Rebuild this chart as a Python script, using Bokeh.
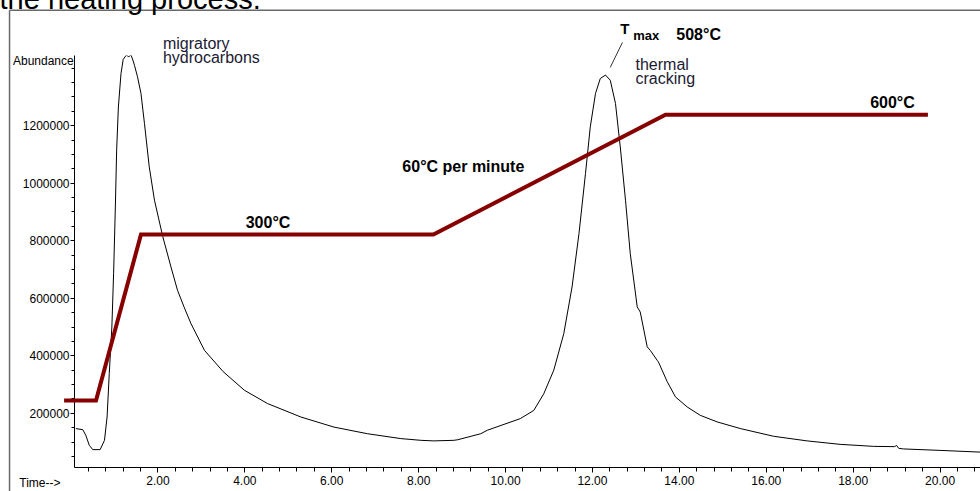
from bokeh.plotting import figure
from bokeh.models import Range1d, FixedTicker, PrintfTickFormatter
from bokeh.core.properties import value
from bokeh.embed import file_html
from bokeh.resources import INLINE

# ---- chromatogram (time in minutes, abundance counts) ----
time_min = [0.11, 0.27, 0.34, 0.42, 0.50, 0.67, 0.77, 0.83, 0.88, 0.94, 0.98, 1.02,
            1.05, 1.09, 1.15, 1.20, 1.27, 1.33, 1.38, 1.43, 1.46, 1.53, 1.61, 1.69,
            1.80, 1.92, 2.11, 2.30, 2.45, 2.60, 2.76, 3.07, 3.50, 3.99, 4.52, 5.29,
            6.05, 6.82, 7.59, 8.05, 8.35, 8.81, 8.90, 9.43, 9.58, 10.34, 10.65, 10.88,
            11.11, 11.34, 11.53, 11.69, 11.84, 11.95, 12.07, 12.18, 12.30, 12.41, 12.53,
            12.64, 12.76, 12.87, 13.03, 13.10, 13.26, 13.33, 13.49, 13.52, 13.72, 13.91,
            14.18, 14.48, 14.87, 15.40, 16.17, 16.94, 17.70, 18.47, 18.95, 19.00, 19.05,
            19.16, 20.00, 20.92]
abundance = [146800, 143000, 123500, 88700, 73700, 73700, 106000, 187000, 338000, 500000,
             686000, 917000, 1115000, 1265000, 1381000, 1430000, 1445000, 1440000, 1446000,
             1425000, 1410000, 1370000, 1312000, 1208000, 1057000, 941000, 815000, 709000,
             628000, 570000, 512000, 419000, 345000, 280000, 234000, 187000, 152000, 129000,
             112000, 106000, 104000, 106000, 108000, 129000, 141000, 181500, 210000, 268000,
             350000, 477000, 639000, 825000, 1034000, 1196000, 1312000, 1364000, 1376000,
             1358000, 1277000, 1126000, 941000, 755000, 570000, 552000, 431000, 419000,
             384000, 378000, 310000, 257000, 222000, 193000, 170000, 147000, 120000, 104000,
             92000, 85000, 84000, 88000, 78000, 76000, 71000, 65000]

# ---- oven temperature programme (schematic, drawn on the abundance scale) ----
temp_time = [-0.16, 0.575, 1.61, 8.34, 13.68, 19.72]
temp_level = [244500, 244500, 821900, 821900, 1238200, 1238200]

# ---- axis ticks ----
x_major = [2, 4, 6, 8, 10, 12, 14, 16, 18, 20]
x_minor = [0.4, 0.8, 1.2, 1.6, 2.4, 2.8, 3.2, 3.6, 4.4, 4.8, 5.2, 5.6, 6.4, 6.8, 7.2, 7.6,
           8.4, 8.8, 9.2, 9.6, 10.4, 10.8, 11.2, 11.6, 12.4, 12.8, 13.2, 13.6, 14.4, 14.8,
           15.2, 15.6, 16.4, 16.8, 17.2, 17.6, 18.4, 18.8, 19.2, 19.6, 20.4, 20.8]
y_major = [200000, 400000, 600000, 800000, 1000000, 1200000]
y_minor = [50000, 100000, 150000, 250000, 300000, 350000, 450000, 500000, 550000,
           650000, 700000, 750000, 850000, 900000, 950000, 1050000, 1100000, 1150000,
           1250000, 1300000, 1350000, 1400000]

# ---- annotation texts ----
note_text = ["migratory", "hydrocarbons", "thermal", "cracking"]
note_x = [2.115, 2.115, 12.99, 12.99]
note_y = [1484950, 1436250, 1412950, 1363250]

bold_text = ["T", "max", "508°C", "300°C", "60°C per minute", "600°C"]
bold_x = [12.64, 12.94, 13.93, 4.02, 7.625, 18.39]
bold_y = [1539600, 1513000, 1516250, 862450, 1059250, 1279750]
bold_size = ["15px", "13px", "16px", "16px", "16px", "16px"]

SANS = "Liberation Sans"

p = figure(width=980, height=491, output_backend="svg", toolbar_location=None,
           x_range=Range1d(0.08, 20.93), y_range=Range1d(11500, 1444000),
           min_border_left=74, min_border_right=0, min_border_top=55,
           min_border_bottom=24)
p.outline_line_color = None
p.grid.visible = False
p.background_fill_color = "white"
p.border_fill_color = "white"

for ax in (p.xaxis[0], p.yaxis[0]):
    ax.axis_line_color = "black"
    ax.axis_line_width = 1
    ax.major_tick_line_color = "black"
    ax.minor_tick_line_color = "black"
    ax.major_tick_in = 0
    ax.minor_tick_in = 0
    ax.major_label_text_font = SANS
    ax.major_label_text_font_size = "12px"
    ax.major_label_text_color = "black"

p.xaxis.ticker = FixedTicker(ticks=x_major, minor_ticks=x_minor)
p.xaxis.formatter = PrintfTickFormatter(format="%.2f")
p.xaxis.major_tick_out = 5
p.xaxis.minor_tick_out = 4
p.xaxis.major_label_standoff = 3

p.yaxis.ticker = FixedTicker(ticks=y_major, minor_ticks=y_minor)
p.yaxis.formatter = PrintfTickFormatter(format="%d")
p.yaxis.major_tick_out = 4
p.yaxis.minor_tick_out = 3
p.yaxis.major_label_standoff = 1

# outer frame of the original figure (top and left edges)
p.segment(x0=[-1.415, -1.415], y0=[1600900, 1600900], x1=[-1.415, 21.5],
          y1=[-120000, 1600900], line_color="#6a6a6a", line_width=1.5,
          level="overlay")

p.line(time_min, abundance, line_color="black", line_width=1)
p.line(temp_time, temp_level, line_color="#860000", line_width=4,
       line_join="miter", level="overlay")

# leader line to T max
p.segment(x0=[12.69], y0=[1489600], x1=[12.41], y1=[1402700],
          line_color="#333333", line_width=1, level="overlay")

p.text(x=note_x, y=note_y, text=note_text, text_font=value(SANS),
       text_font_size=value("16px"), text_color="#1a1a33",
       text_baseline="alphabetic", level="overlay")
for t, x, y, s in zip(bold_text, bold_x, bold_y, bold_size):
    p.text(x=[x], y=[y], text=[t], text_font=value(SANS), text_font_size=value(s),
           text_font_style="bold", text_color="black", text_baseline="alphabetic",
           level="overlay")

p.text(x=[0.062], y=[1424300], text=["Abundance"], text_font=value(SANS),
       text_font_size=value("12px"), text_align="right", text_baseline="alphabetic",
       text_color="black", level="overlay")
p.text(x=[-1.19], y=[-41700], text=["Time-->"], text_font=value(SANS),
       text_font_size=value("12px"), text_baseline="alphabetic",
       text_color="black", level="overlay")
p.text(x=[-1.645], y=[1639200], text=["the heating process."], text_font=value(SANS),
       text_font_size=value("29px"), text_baseline="alphabetic",
       text_color="black", level="overlay")

open("out.html", "w").write(file_html(p, INLINE))
